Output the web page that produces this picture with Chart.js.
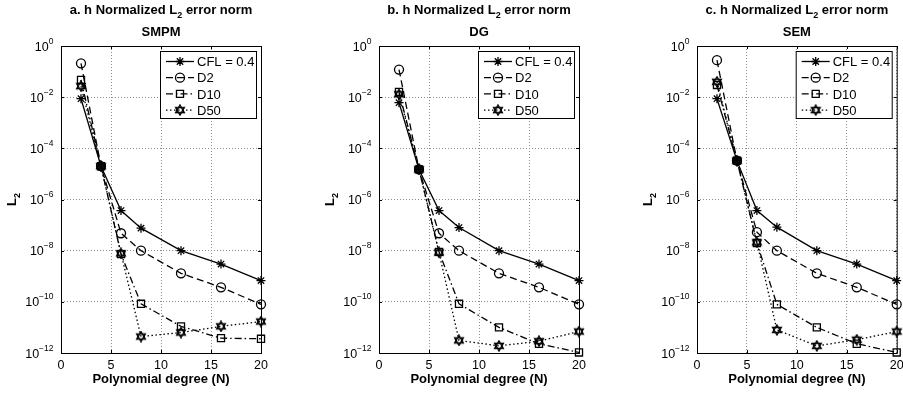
<!DOCTYPE html>
<html>
<head>
<meta charset="utf-8">
<script src="https://cdn.jsdelivr.net/npm/chart.js@4.4.0/dist/chart.umd.min.js"></script>
<style>
  html, body { margin: 0; padding: 0; background: #fff; }
  #wrap { position: relative; width: 903px; height: 393px; overflow: hidden; }
  #wrap canvas { position: absolute; top: 0; }
</style>
</head>
<body>
<div id="wrap">
  <canvas id="chartA" width="301" height="393" style="left:0px"></canvas>
  <canvas id="chartB" width="301" height="393" style="left:301px"></canvas>
  <canvas id="chartC" width="301" height="393" style="left:602px"></canvas>
</div>
<script>
// ─── Données ──────────────────────────────────────────────────────────────────
const degrees = [2, 4, 6, 8, 12, 16, 20];
const xTicks = [0, 5, 10, 15, 20];
const yTickExponents = [0, -2, -4, -6, -8, -10, -12];
const seriesLabels = ["CFL = 0.4", "D2", "D10", "D50"];

// SMPM
const smpmCFL = [8.7e-3, 2e-5, 3.7e-7, 7.6e-8, 1e-8, 3e-9, 6.8e-10];
const smpmD2  = [0.21, 2e-5, 4.8e-8, 1e-8, 1.3e-9, 3.7e-10, 8e-11];
const smpmD10 = [4.7e-2, 2e-5, 7.3e-9, 8.4e-11, 1.1e-11, 3.8e-12, 3.6e-12];
const smpmD50 = [2.7e-2, 2e-5, 7.8e-9, 4.4e-12, 6.3e-12, 1.1e-11, 1.7e-11];

// DG
const dgCFL = [6.1e-3, 1.5e-5, 3.7e-7, 8e-8, 1e-8, 3e-9, 6.8e-10];
const dgD2  = [0.12, 1.5e-5, 4.8e-8, 1e-8, 1.3e-9, 3.7e-10, 8e-11];
const dgD10 = [1.6e-2, 1.5e-5, 9e-9, 8.4e-11, 1e-11, 2.3e-12, 1.05e-12];
const dgD50 = [1.3e-2, 1.5e-5, 8.5e-9, 3.1e-12, 1.9e-12, 2.9e-12, 6.9e-12];

// SEM
const semCFL = [8.7e-3, 3.3e-5, 3.7e-7, 8.3e-8, 1e-8, 3e-9, 6.8e-10];
const semD2  = [0.28, 3.3e-5, 5.3e-8, 1e-8, 1.3e-9, 3.7e-10, 8e-11];
const semD10 = [3e-2, 3.3e-5, 2e-8, 8e-11, 1e-11, 2.3e-12, 1.05e-12];
const semD50 = [4e-2, 3.3e-5, 2.1e-8, 8e-12, 1.9e-12, 3.3e-12, 6.9e-12];

// ─── Style ────────────────────────────────────────────────────────────────────
const FONT = "'Liberation Sans', Arial, Helvetica, sans-serif";

// hexagramme (marqueur 'h' de MATLAB), dessiné une fois sur un petit canvas
function makeHexagram(size) {
  const c = document.createElement("canvas");
  c.width = size; c.height = size;
  const g = c.getContext("2d");
  const r = size / 2 - 1, cx = size / 2, cy = size / 2;
  g.strokeStyle = "#000";
  g.lineWidth = 1.4;
  g.lineJoin = "miter";
  for (const rot of [-Math.PI / 2, Math.PI / 2]) {
    g.beginPath();
    for (let k = 0; k < 3; k++) {
      const a = rot + k * 2 * Math.PI / 3;
      const px = cx + r * Math.cos(a), py = cy + r * Math.sin(a);
      if (k) g.lineTo(px, py); else g.moveTo(px, py);
    }
    g.closePath();
    g.stroke();
  }
  return c;
}
const hexagram = makeHexagram(12);

const LINE_STYLES = [
  { dash: [], pointStyle: "star", radius: 4.5 },
  { dash: [7, 4], pointStyle: "circle", radius: 4.5 },
  { dash: [7, 3, 1.5, 3], pointStyle: "rect", radius: 5 },
  { dash: [1.5, 2.5], pointStyle: hexagram, radius: 5 },
];

const PANELS = [
  { id: "chartA", tag: "a.", method: "SMPM", series: [smpmCFL, smpmD2, smpmD10, smpmD50], padLeft: 61, padRight: 40 },
  { id: "chartB", tag: "b.", method: "DG",   series: [dgCFL, dgD2, dgD10, dgD50],         padLeft: 78, padRight: 23 },
  { id: "chartC", tag: "c.", method: "SEM",  series: [semCFL, semD2, semD10, semD50],     padLeft: 95, padRight: 6 },
];

// ─── Textes, cadre et légende (dessinés à la main) ───────────────────────────
function drawPowerLabel(ctx, exp, xRight, y) {
  const base = "10";
  const sup = exp === 0 ? "0" : "\u2212" + Math.abs(exp);
  ctx.font = `12.5px ${FONT}`;
  const wb = ctx.measureText(base).width;
  ctx.font = `8.5px ${FONT}`;
  const ws = ctx.measureText(sup).width;
  const x0 = xRight - ws - wb;
  ctx.font = `12.5px ${FONT}`;
  ctx.fillText(base, x0, y + 4.5);
  ctx.font = `8.5px ${FONT}`;
  ctx.fillText(sup, x0 + wb, y - 2.5);
}

function drawTitle(ctx, tag, method, cx) {
  const a = `${tag} h Normalized L`, b = " error norm";
  ctx.font = `bold 13px ${FONT}`;
  const wa = ctx.measureText(a).width, wb = ctx.measureText(b).width;
  ctx.font = `bold 9px ${FONT}`;
  const ws = ctx.measureText("2").width;
  let x = cx - (wa + ws + wb) / 2;
  ctx.textAlign = "left";
  ctx.font = `bold 13px ${FONT}`;
  ctx.fillText(a, x, 14);
  ctx.font = `bold 9px ${FONT}`;
  ctx.fillText("2", x + wa, 18);
  ctx.font = `bold 13px ${FONT}`;
  ctx.fillText(b, x + wa + ws, 14);
  ctx.textAlign = "center";
  ctx.fillText(method, cx, 36);
}

function drawLegend(ctx, chart, ca) {
  const w = 96, h = 67;
  const left = ca.right - 5 - w, top = ca.top + 5;
  ctx.fillStyle = "#fff";
  ctx.fillRect(left, top, w, h);
  ctx.strokeStyle = "#000";
  ctx.lineWidth = 1;
  ctx.strokeRect(left + 0.5, top + 0.5, w, h);

  chart.data.datasets.forEach((ds, i) => {
    const y = top + 10.5 + i * 16.2;
    const st = LINE_STYLES[i];
    ctx.save();
    ctx.lineWidth = 1.3;
    ctx.setLineDash(st.dash);
    ctx.beginPath();
    ctx.moveTo(left + 6, y);
    ctx.lineTo(left + 34, y);
    ctx.stroke();
    ctx.restore();
    ctx.fillStyle = "rgba(0,0,0,0)";
    ctx.strokeStyle = "#000";
    ctx.lineWidth = 1.3;
    Chart.helpers.drawPoint(ctx, { pointStyle: st.pointStyle, radius: st.radius, borderWidth: 1.3, rotation: 0 }, left + 20, y);
    ctx.fillStyle = "#000";
    ctx.font = `13px ${FONT}`;
    ctx.textAlign = "left";
    ctx.fillText(ds.label, left + 37, y + 4.6);
  });
}

const matlabAxes = {
  id: "matlabAxes",
  afterDraw(chart) {
    const { ctx, chartArea: ca, scales } = chart;
    const panel = chart.options.plugins.matlabAxes.panel;
    ctx.save();
    ctx.fillStyle = "#000";
    ctx.strokeStyle = "#000";
    ctx.lineWidth = 1;

    // cadre + petites graduations intérieures
    ctx.strokeRect(ca.left + 0.5, ca.top + 0.5, ca.right - ca.left, ca.bottom - ca.top);
    ctx.beginPath();
    xTicks.forEach((t) => {
      const x = Math.round(scales.x.getPixelForValue(t)) + 0.5;
      ctx.moveTo(x, ca.bottom); ctx.lineTo(x, ca.bottom - 3);
      ctx.moveTo(x, ca.top); ctx.lineTo(x, ca.top + 3);
    });
    yTickExponents.forEach((e) => {
      const y = Math.round(scales.y.getPixelForValue(Math.pow(10, e))) + 0.5;
      ctx.moveTo(ca.left, y); ctx.lineTo(ca.left + 3, y);
      ctx.moveTo(ca.right, y); ctx.lineTo(ca.right - 3, y);
    });
    ctx.stroke();

    // étiquettes des graduations
    ctx.textAlign = "left";
    yTickExponents.forEach((e) => {
      drawPowerLabel(ctx, e, ca.left - 7.5, scales.y.getPixelForValue(Math.pow(10, e)));
    });
    ctx.font = `12.5px ${FONT}`;
    ctx.textAlign = "center";
    xTicks.forEach((t) => {
      ctx.fillText(String(t), scales.x.getPixelForValue(t), ca.bottom + 15.5);
    });

    // titres des axes
    const cx = (ca.left + ca.right) / 2;
    ctx.font = `bold 13px ${FONT}`;
    ctx.fillText("Polynomial degree (N)", cx, ca.bottom + 29.5);

    ctx.save();
    ctx.translate(ca.left - 45, (ca.top + ca.bottom) / 2);
    ctx.rotate(-Math.PI / 2);
    ctx.textAlign = "left";
    ctx.font = `bold 13px ${FONT}`;
    const wL = ctx.measureText("L").width;
    ctx.font = `bold 9px ${FONT}`;
    const w2 = ctx.measureText("2").width;
    ctx.font = `bold 13px ${FONT}`;
    ctx.fillText("L", -(wL + w2) / 2, 0);
    ctx.font = `bold 9px ${FONT}`;
    ctx.fillText("2", -(wL + w2) / 2 + wL, 4);
    ctx.restore();

    drawTitle(ctx, panel.tag, panel.method, cx);
    drawLegend(ctx, chart, ca);
    ctx.restore();
  },
};

// ─── Construction des graphiques ─────────────────────────────────────────────
function renderPanel(panel) {
  const ctx = document.getElementById(panel.id).getContext("2d");
  const datasets = panel.series.map((values, i) => ({
    label: seriesLabels[i],
    data: degrees.map((d, k) => ({ x: d, y: values[k] })),
    borderColor: "#000",
    borderWidth: 1.3,
    borderDash: LINE_STYLES[i].dash,
    pointStyle: LINE_STYLES[i].pointStyle,
    pointRadius: LINE_STYLES[i].radius,
    pointBorderColor: "#000",
    pointBackgroundColor: "rgba(0,0,0,0)",
    pointBorderWidth: 1.3,
    tension: 0,
    fill: false,
    clip: false,
  }));

  return new Chart(ctx, {
    type: "line",
    data: { datasets },
    plugins: [matlabAxes],
    options: {
      responsive: false,
      animation: false,
      devicePixelRatio: 1,
      layout: { padding: { left: panel.padLeft, right: panel.padRight, top: 46, bottom: 40 } },
      plugins: {
        legend: { display: false },
        tooltip: { enabled: false },
        matlabAxes: { panel },
      },
      scales: {
        x: {
          type: "linear",
          min: 0,
          max: 20,
          afterBuildTicks: (scale) => { scale.ticks = xTicks.map((v) => ({ value: v })); },
          ticks: { display: false },
          grid: { color: "#8c8c8c", lineWidth: 1, drawTicks: false },
          border: { display: false, dash: [1, 2] },
        },
        y: {
          type: "logarithmic",
          min: 1e-12,
          max: 1,
          afterBuildTicks: (scale) => { scale.ticks = yTickExponents.map((e) => ({ value: Math.pow(10, e) })); },
          ticks: { display: false },
          grid: { color: "#8c8c8c", lineWidth: 1, drawTicks: false },
          border: { display: false, dash: [1, 2] },
        },
      },
    },
  });
}

PANELS.forEach(renderPanel);
</script>
</body>
</html>
